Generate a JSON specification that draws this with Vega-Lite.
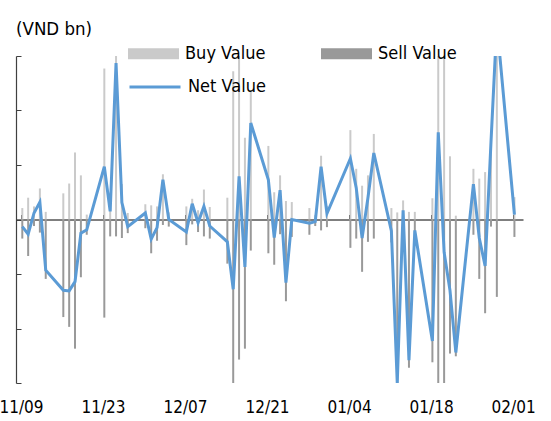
{
  "$schema": "https://vega.github.io/schema/vega-lite/v6.json",
  "width": 507,
  "height": 327,
  "autosize": {"type": "none"},
  "padding": {"left": 16, "top": 56, "right": 15, "bottom": 38},
  "background": "white",
  "config": {
    "view": {"stroke": null},
    "font": "DejaVu Sans Condensed, Liberation Sans, sans-serif"
  },
  "title": {
    "text": "(VND bn)",
    "anchor": "start",
    "frame": "group",
    "offset": 22,
    "dy": 32,
    "fontSize": 18.5,
    "fontWeight": "normal",
    "color": "#000000",
    "font": "DejaVu Sans Condensed, Liberation Sans, sans-serif"
  },
  "data": {
    "values": [
      {"d": "2020-11-09", "buy": 0.21, "sell": -0.35, "net": -0.13},
      {"d": "2020-11-10", "buy": 0.40, "sell": -0.67, "net": -0.27},
      {"d": "2020-11-11", "buy": 0.24, "sell": -0.12, "net": 0.12},
      {"d": "2020-11-12", "buy": 0.57, "sell": -0.24, "net": 0.32},
      {"d": "2020-11-13", "buy": 0.14, "sell": -1.09, "net": -0.93},
      {"d": "2020-11-16", "buy": 0.48, "sell": -1.79, "net": -1.30},
      {"d": "2020-11-17", "buy": 0.66, "sell": -1.97, "net": -1.31},
      {"d": "2020-11-18", "buy": 1.23, "sell": -2.37, "net": -1.14},
      {"d": "2020-11-19", "buy": 0.81, "sell": -1.06, "net": -0.25},
      {"d": "2020-11-20", "buy": 0.09, "sell": -0.28, "net": -0.19},
      {"d": "2020-11-23", "buy": 2.77, "sell": -1.80, "net": 0.97},
      {"d": "2020-11-24", "buy": 0.46, "sell": -0.31, "net": 0.15},
      {"d": "2020-11-25", "buy": 3.18, "sell": -0.31, "net": 2.87},
      {"d": "2020-11-26", "buy": 0.65, "sell": -0.34, "net": 0.31},
      {"d": "2020-11-27", "buy": 0.12, "sell": -0.25, "net": -0.13},
      {"d": "2020-11-30", "buy": 0.28, "sell": -0.16, "net": 0.12},
      {"d": "2020-12-01", "buy": 0.26, "sell": -0.62, "net": -0.36},
      {"d": "2020-12-02", "buy": 0.24, "sell": -0.39, "net": -0.15},
      {"d": "2020-12-03", "buy": 0.83, "sell": -0.10, "net": 0.73},
      {"d": "2020-12-04", "buy": 0.13, "sell": -0.13, "net": 0.0},
      {"d": "2020-12-07", "buy": 0.24, "sell": -0.47, "net": -0.23},
      {"d": "2020-12-08", "buy": 0.38, "sell": -0.09, "net": 0.29},
      {"d": "2020-12-09", "buy": 0.17, "sell": -0.23, "net": -0.06},
      {"d": "2020-12-10", "buy": 0.55, "sell": -0.31, "net": 0.24},
      {"d": "2020-12-11", "buy": 0.23, "sell": -0.35, "net": -0.12},
      {"d": "2020-12-14", "buy": 0.40, "sell": -0.81, "net": -0.41},
      {"d": "2020-12-15", "buy": 2.72, "sell": -4.00, "net": -1.28},
      {"d": "2020-12-16", "buy": 3.36, "sell": -2.57, "net": 0.79},
      {"d": "2020-12-17", "buy": 1.50, "sell": -2.37, "net": -0.87},
      {"d": "2020-12-18", "buy": 2.34, "sell": -0.57, "net": 1.77},
      {"d": "2020-12-21", "buy": 1.35, "sell": -0.62, "net": 0.73},
      {"d": "2020-12-22", "buy": 0.50, "sell": -0.83, "net": -0.33},
      {"d": "2020-12-23", "buy": 0.81, "sell": -0.27, "net": 0.54},
      {"d": "2020-12-24", "buy": 0.34, "sell": -1.50, "net": -1.16},
      {"d": "2020-12-25", "buy": 0.32, "sell": -0.32, "net": 0.0},
      {"d": "2020-12-28", "buy": 0.21, "sell": -0.28, "net": -0.07},
      {"d": "2020-12-29", "buy": 0.08, "sell": -0.12, "net": -0.04},
      {"d": "2020-12-30", "buy": 1.17, "sell": -0.20, "net": 0.97},
      {"d": "2020-12-31", "buy": 0.25, "sell": -0.14, "net": 0.11},
      {"d": "2021-01-04", "buy": 1.64, "sell": -0.52, "net": 1.12},
      {"d": "2021-01-05", "buy": 0.93, "sell": -0.35, "net": 0.58},
      {"d": "2021-01-06", "buy": 0.62, "sell": -0.96, "net": -0.34},
      {"d": "2021-01-07", "buy": 0.81, "sell": -0.41, "net": 0.40},
      {"d": "2021-01-08", "buy": 1.57, "sell": -0.35, "net": 1.22},
      {"d": "2021-01-11", "buy": 0.21, "sell": -0.42, "net": -0.21},
      {"d": "2021-01-12", "buy": 0.13, "sell": -3.13, "net": -3.00},
      {"d": "2021-01-13", "buy": 0.35, "sell": -0.18, "net": 0.17},
      {"d": "2021-01-14", "buy": 0.14, "sell": -2.72, "net": -2.58},
      {"d": "2021-01-15", "buy": 0.14, "sell": -0.34, "net": -0.20},
      {"d": "2021-01-18", "buy": 0.39, "sell": -2.62, "net": -2.23},
      {"d": "2021-01-19", "buy": 4.80, "sell": -3.20, "net": 1.60},
      {"d": "2021-01-20", "buy": 3.50, "sell": -4.10, "net": -0.60},
      {"d": "2021-01-21", "buy": 1.16, "sell": -2.46, "net": -1.30},
      {"d": "2021-01-22", "buy": 0.07, "sell": -2.51, "net": -2.44},
      {"d": "2021-01-25", "buy": 0.93, "sell": -0.28, "net": 0.65},
      {"d": "2021-01-26", "buy": 0.75, "sell": -1.09, "net": -0.34},
      {"d": "2021-01-27", "buy": 0.87, "sell": -1.72, "net": -0.85},
      {"d": "2021-01-28", "buy": 1.55, "sell": -0.13, "net": 1.42},
      {"d": "2021-01-29", "buy": 5.00, "sell": -1.42, "net": 3.60},
      {"d": "2021-02-01", "buy": 0.41, "sell": -0.32, "net": 0.09}
    ]
  },
  "layer": [
    {
      "transform": [{"fold": ["buy", "sell"], "as": ["key", "val"]}],
      "mark": {"type": "bar", "width": 2, "xOffset": 1.3, "clip": true},
      "encoding": {
        "x": {
          "field": "d",
          "type": "temporal",
          "scale": {
            "type": "utc",
            "domain": [
              {"year": 2020, "month": 11, "date": 9, "utc": true},
              {"year": 2021, "month": 2, "date": 1, "hours": 20, "utc": true}
            ]
          },
          "axis": {
            "orient": "bottom",
            "title": null,
            "domain": false,
            "ticks": false,
            "grid": false,
            "values": [
              {"year": 2020, "month": 11, "date": 9, "utc": true},
              {"year": 2020, "month": 11, "date": 23, "utc": true},
              {"year": 2020, "month": 12, "date": 7, "utc": true},
              {"year": 2020, "month": 12, "date": 21, "utc": true},
              {"year": 2021, "month": 1, "date": 4, "utc": true},
              {"year": 2021, "month": 1, "date": 18, "utc": true},
              {"year": 2021, "month": 2, "date": 1, "utc": true}
            ],
            "labelExpr": "utcFormat(datum.value, '%m/%d')",
            "labelFontSize": 17,
            "labelColor": "#000000",
            "labelPadding": 16,
            "labelOverlap": false,
            "labelBound": false,
            "labelFlush": false
          }
        },
        "y": {
          "field": "val",
          "type": "quantitative",
          "stack": null,
          "scale": {"domain": [-3, 3], "nice": false, "zero": false},
          "axis": {
            "orient": "right",
            "offset": -507,
            "title": null,
            "labels": false,
            "grid": false,
            "values": [-3, -2, -1, 0, 1, 2, 3],
            "tickSize": 5,
            "tickColor": "#404040",
            "domainColor": "#404040",
            "domainWidth": 1.2
          }
        },
        "color": {
          "field": "key",
          "type": "nominal",
          "scale": {"domain": ["buy", "sell"], "range": ["#cacaca", "#999999"]},
          "legend": {
            "orient": "none",
            "legendX": 112,
            "legendY": -28,
            "direction": "horizontal",
            "columns": 2,
            "title": null,
            "symbolType": "M-1,-0.22H1V0.22H-1Z",
            "symbolSize": 2601,
            "symbolStrokeWidth": 0,
            "labelOffset": 6,
            "columnPadding": 55,
            "labelFontSize": 18,
            "labelColor": "#000000",
            "labelLimit": 200,
            "labelExpr": "datum.label == 'buy' ? 'Buy Value' : 'Sell Value'"
          }
        }
      }
    },
    {
      "mark": {"type": "line", "strokeWidth": 3, "xOffset": 1.3, "clip": true},
      "encoding": {
        "x": {
          "field": "d",
          "type": "temporal",
          "axis": {
            "orient": "top",
            "offset": -163.5,
            "title": null,
            "labels": false,
            "grid": false,
            "values": [
              {"year": 2020, "month": 11, "date": 9, "utc": true},
              {"year": 2020, "month": 11, "date": 23, "utc": true},
              {"year": 2020, "month": 12, "date": 7, "utc": true},
              {"year": 2020, "month": 12, "date": 21, "utc": true},
              {"year": 2021, "month": 1, "date": 4, "utc": true},
              {"year": 2021, "month": 1, "date": 18, "utc": true},
              {"year": 2021, "month": 2, "date": 1, "utc": true}
            ],
            "tickSize": 5,
            "tickColor": "#000000",
            "domainColor": "#7f7f7f",
            "domainWidth": 1.8
          }
        },
        "y": {
          "field": "net",
          "type": "quantitative",
          "scale": {"domain": [-3, 3], "nice": false, "zero": false},
          "axis": {
            "orient": "right",
            "offset": -507,
            "title": null,
            "labels": false,
            "grid": false,
            "values": [-3, -2, -1, 0, 1, 2, 3],
            "tickSize": 5,
            "tickColor": "#404040",
            "domainColor": "#404040",
            "domainWidth": 1.2
          }
        },
        "stroke": {
          "datum": "Net Value",
          "type": "nominal",
          "scale": {"domain": ["Net Value"], "range": ["#5b9bd5"]},
          "legend": {
            "orient": "none",
            "legendX": 112,
            "legendY": 4,
            "title": null,
            "symbolType": "stroke",
            "symbolSize": 2601,
            "symbolStrokeWidth": 3,
            "labelOffset": 6,
            "labelFontSize": 18,
            "labelColor": "#000000",
            "labelLimit": 200
          }
        }
      }
    }
  ],
  "resolve": {"axis": {"x": "independent"}}
}
